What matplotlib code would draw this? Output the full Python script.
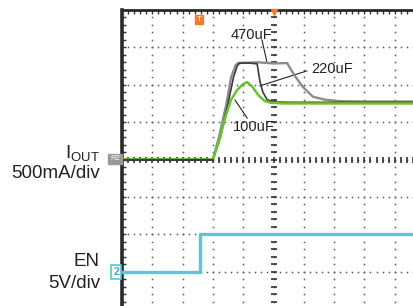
import matplotlib.pyplot as plt
import numpy as np

plt.rcParams['font.family'] = ['Liberation Sans', 'DejaVu Sans']

# scope screen is 10 x 8 divisions; values below are in divisions
t_470 = [0, 3.0, 3.2, 3.45, 3.6, 3.75, 3.82, 4.5, 5.0, 5.45, 5.58, 5.72, 5.97, 6.3, 6.7, 7.2, 8.0, 10.2]
i_470 = [0, 0, 0.6, 1.5, 2.2, 2.52, 2.58, 2.6, 2.57, 2.58, 2.4, 2.22, 1.94, 1.68, 1.6, 1.56, 1.55, 1.55]

t_220 = [0, 3.0, 3.25, 3.5, 3.68, 3.8, 3.88, 4.2, 4.46, 4.55, 4.65, 4.79, 5.0, 5.5, 10.2]
i_220 = [0, 0, 0.6, 1.5, 2.2, 2.5, 2.58, 2.58, 2.56, 2.1, 1.8, 1.6, 1.54, 1.53, 1.53]

t_100 = [0, 3.0, 3.2, 3.4, 3.6, 3.8, 4.0, 4.13, 4.3, 4.5, 4.7, 4.9, 5.3, 10.2]
i_100 = [0, 0, 0.5, 1.1, 1.6, 1.86, 2.02, 2.07, 1.95, 1.72, 1.57, 1.52, 1.5, 1.5]

t_en = [0, 2.57, 2.57, 10.2]
v_en = [-3.0, -3.0, -2.0, -2.0]

W, H = 414, 306
fig = plt.figure(figsize=(W / 100, H / 100), dpi=100)
# plot area spills past the right and bottom edges like the scope capture
ax = fig.add_axes([122 / W, (H - 309) / H, 303 / W, 299 / H])
ax.set_xlim(0, 10)
ax.set_ylim(-4, 4)

# dotted graticule
for gx in range(1, 10):
    ys = np.arange(-4, 4.01, 0.2)
    ax.plot([gx] * len(ys), ys, ls='none', marker='s', ms=1.1, color='#555', mew=0)
for gy in range(-3, 4):
    xs = np.arange(0, 10.01, 0.2)
    ax.plot(xs, [gy] * len(xs), ls='none', marker='s', ms=1.1, color='#555', mew=0)
# centre axes with sub-division ticks
ys = np.arange(-4, 4.01, 0.2)
ax.plot([5] * len(ys), ys, ls='none', marker='_', ms=5, mew=1.2, color='#333')
xs = np.arange(0, 10.01, 0.2)
ax.plot(xs, [0] * len(xs), ls='none', marker='|', ms=5, mew=1.2, color='#333')

# traces
ax.plot(t_en, v_en, color='#5cc6d2', lw=2.4, zorder=3)
ax.plot(t_470, i_470, color='#8c8c8c', lw=1.7, zorder=3)
ax.plot(t_220, i_220, color='#3a3a3a', lw=1.2, zorder=4)
ax.plot(t_100, i_100, color='#66c42e', lw=1.8, zorder=5)
ax.plot([0, 3.0], [0, 0], color='#2a2a2a', lw=1.2, zorder=6)

# callouts
ax.text(4.26, 3.34, '470uF', fontsize=10.5, ha='center', va='center', color='#222')
ax.plot([4.62, 4.79], [3.2, 2.58], color='#222', lw=0.8)
ax.text(6.92, 2.43, '220uF', fontsize=10.5, ha='center', va='center', color='#222')
ax.plot([6.1, 4.55], [2.37, 1.97], color='#222', lw=0.8)
ax.text(4.36, 0.86, '100uF', fontsize=10.5, ha='center', va='center', color='#222')
ax.plot([4.13, 3.73], [1.11, 1.59], color='#222', lw=0.8)

# trigger marks
ax.text(2.54, 3.74, 'T', fontsize=6, color='white', ha='center', va='center',
        bbox=dict(boxstyle='square,pad=0.15', fc='#f47a30', ec='#f47a30'))
ax.plot([5], [3.95], marker='v', ms=5, color='#f47a30', clip_on=False, zorder=7)

# frame: thick left/top border with minor ticks, no right/bottom
for s in ['right', 'bottom']:
    ax.spines[s].set_visible(False)
ax.spines['left'].set_linewidth(2.6)
ax.spines['top'].set_linewidth(2.0)
ax.spines['left'].set_color('#2a2a2a')
ax.spines['top'].set_color('#2a2a2a')
ax.set_xticks(np.arange(0, 10.01, 0.2))
ax.set_yticks(np.arange(-4, 4.01, 0.2))
ax.tick_params(direction='in', length=3, width=1, color='#333',
               left=True, top=True, bottom=False, right=False,
               labelleft=False, labelbottom=False, labeltop=False)

# channel markers
fig.text(115 / W, 1 - 159 / H, 'R2', fontsize=5.5, color='white', ha='center', va='center',
         bbox=dict(boxstyle='square,pad=0.25', fc='#9a9a9a', ec='#9a9a9a'))
fig.text(116 / W, 1 - 272 / H, '2', fontsize=7.5, color='#3aaab8', ha='center', va='center',
         fontweight='bold',
         bbox=dict(boxstyle='square,pad=0.2', fc='white', ec='#5cc6d2', lw=1.2))

# channel labels
fig.text(100 / W, 1 - 154 / H, r'I$_{\mathregular{OUT}}$', fontsize=13.5, ha='right',
         va='center', color='#222')
fig.text(100 / W, 1 - 174 / H, '500mA/div', fontsize=13.5, ha='right', va='center', color='#222')
fig.text(100 / W, 1 - 261 / H, 'EN', fontsize=13.5, ha='right', va='center', color='#222')
fig.text(100 / W, 1 - 283 / H, '5V/div', fontsize=13.5, ha='right', va='center', color='#222')

fig.savefig('out.png', dpi=100)
